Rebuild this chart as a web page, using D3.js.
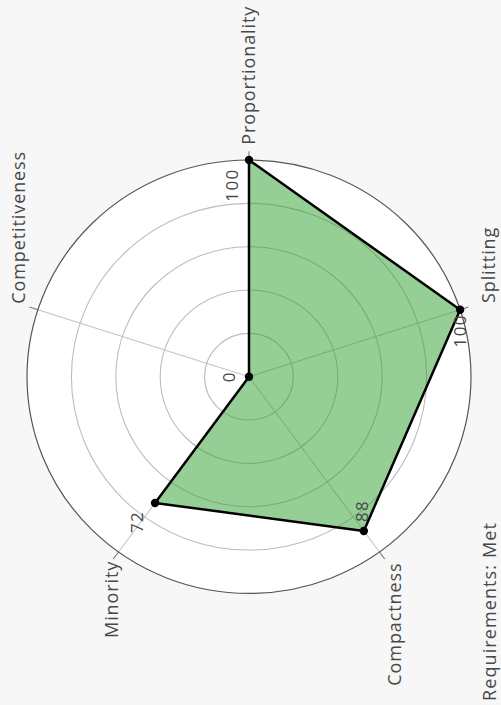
<!DOCTYPE html>
<html>
<head>
<meta charset="utf-8">
<script src="https://cdn.jsdelivr.net/npm/d3@7"></script>
<style>
  html, body { margin: 0; padding: 0; background: #f7f7f7; }
  svg { display: block; }
  text { font-family: "Open Sans", "Noto Sans", sans-serif; fill: #484848; }
</style>
</head>
<body>
<div id="container"></div>
<script>
// Data
const axesNames = ['Proportionality', 'Splitting', 'Compactness', 'Minority', 'Competitiveness'];
const scores = [100, 100, 88, 72, 0];
const ringTicks = [20, 40, 60, 80, 100];
const footnote = 'Requirements: Met';

// Layout
const width = 501;
const height = 705;
const center = { x: 249, y: 376.7 };
const radiusX = 222;
const radiusY = 216.7;

// label placement per axis: radius factor, anchor and cross-alignment (em)
const labelLayout = [
    { k: 1.07, anchor: 'start', dy: '0.35em' },
    { k: 1.10, anchor: 'start', dy: '0.78em' },
    { k: 1.06, anchor: 'end', dy: '0.78em' },
    { k: 1.05, anchor: 'end', dy: '0.35em' },
    { k: 1.09, anchor: 'start', dy: '0.35em' }
];
// value label offsets from their point (screen px)
const valueOffsets = [[-17, 25], [0, 21], [-2, -20], [-18, 19], [-20, 0]];

const svg = d3.select('#container').append('svg')
    .attr('width', width)
    .attr('height', height);

const rx = d3.scaleLinear().domain([0, 100]).range([0, radiusX]);
const ry = d3.scaleLinear().domain([0, 100]).range([0, radiusY]);
const angle = d3.scalePoint().domain(axesNames).range([0, 2 * Math.PI * 4 / 5]);

function pos(name, v) {
    const a = angle(name);
    return [center.x + rx(v) * Math.sin(a), center.y - ry(v) * Math.cos(a)];
}

// white plot face
svg.append('ellipse')
    .attr('cx', center.x).attr('cy', center.y)
    .attr('rx', rx(100)).attr('ry', ry(100))
    .attr('fill', '#fff');

// grid rings
svg.selectAll('.ring')
    .data(ringTicks.slice(0, -1))
    .enter()
    .append('ellipse')
    .attr('class', 'ring')
    .attr('cx', center.x).attr('cy', center.y)
    .attr('rx', d => rx(d)).attr('ry', d => ry(d))
    .attr('fill', 'none')
    .attr('stroke', '#bdbdbd')
    .attr('stroke-width', 1.1);

// spokes
svg.selectAll('.spoke')
    .data(axesNames)
    .enter()
    .append('line')
    .attr('class', 'spoke')
    .attr('x1', center.x).attr('y1', center.y)
    .attr('x2', d => pos(d, 100)[0]).attr('y2', d => pos(d, 100)[1])
    .attr('stroke', '#c4c4c4')
    .attr('stroke-width', 1.1);

// outer ticks
svg.selectAll('.tick')
    .data(axesNames)
    .enter()
    .append('line')
    .attr('class', 'tick')
    .attr('x1', d => pos(d, 100)[0]).attr('y1', d => pos(d, 100)[1])
    .attr('x2', d => pos(d, 104)[0]).attr('y2', d => pos(d, 104)[1])
    .attr('stroke', '#777')
    .attr('stroke-width', 1.1);

// outer ring
svg.append('ellipse')
    .attr('cx', center.x).attr('cy', center.y)
    .attr('rx', rx(100)).attr('ry', ry(100))
    .attr('fill', 'none')
    .attr('stroke', '#555')
    .attr('stroke-width', 1.2);

// score polygon
const pts = axesNames.map((n, i) => pos(n, scores[i]));
svg.append('path')
    .attr('d', d3.line().curve(d3.curveLinearClosed)(pts))
    .attr('fill', '#2ca02c')
    .attr('fill-opacity', 0.5)
    .attr('stroke', '#000')
    .attr('stroke-width', 2.5)
    .attr('stroke-linejoin', 'round');

svg.selectAll('.dot')
    .data(pts)
    .enter()
    .append('circle')
    .attr('class', 'dot')
    .attr('cx', d => d[0]).attr('cy', d => d[1])
    .attr('r', 4.2)
    .attr('fill', '#000');

// value labels
svg.selectAll('.val')
    .data(scores)
    .enter()
    .append('text')
    .attr('class', 'val')
    .attr('transform', (d, i) => {
        const p = pos(axesNames[i], d);
        return 'translate(' + (p[0] + valueOffsets[i][0]) + ',' + (p[1] + valueOffsets[i][1]) + ') rotate(-90)';
    })
    .attr('text-anchor', 'middle')
    .attr('dy', '0.35em')
    .style('font-size', '17px')
    .style('letter-spacing', '1.4px')
    .text(d => d);

// axis labels
svg.selectAll('.axis-label')
    .data(axesNames)
    .enter()
    .append('text')
    .attr('class', 'axis-label')
    .attr('transform', (d, i) => {
        const p = pos(d, 100 * labelLayout[i].k);
        return 'translate(' + p[0] + ',' + p[1] + ') rotate(-90)';
    })
    .attr('text-anchor', (d, i) => labelLayout[i].anchor)
    .attr('dy', (d, i) => labelLayout[i].dy)
    .style('font-size', '18px')
    .style('letter-spacing', '0.9px')
    .text(d => d);

// footnote
svg.append('text')
    .attr('transform', 'translate(490,701) rotate(-90)')
    .attr('dy', '0.35em')
    .style('font-size', '18px')
    .style('letter-spacing', '1.1px')
    .text(footnote);
</script>
</body>
</html>
